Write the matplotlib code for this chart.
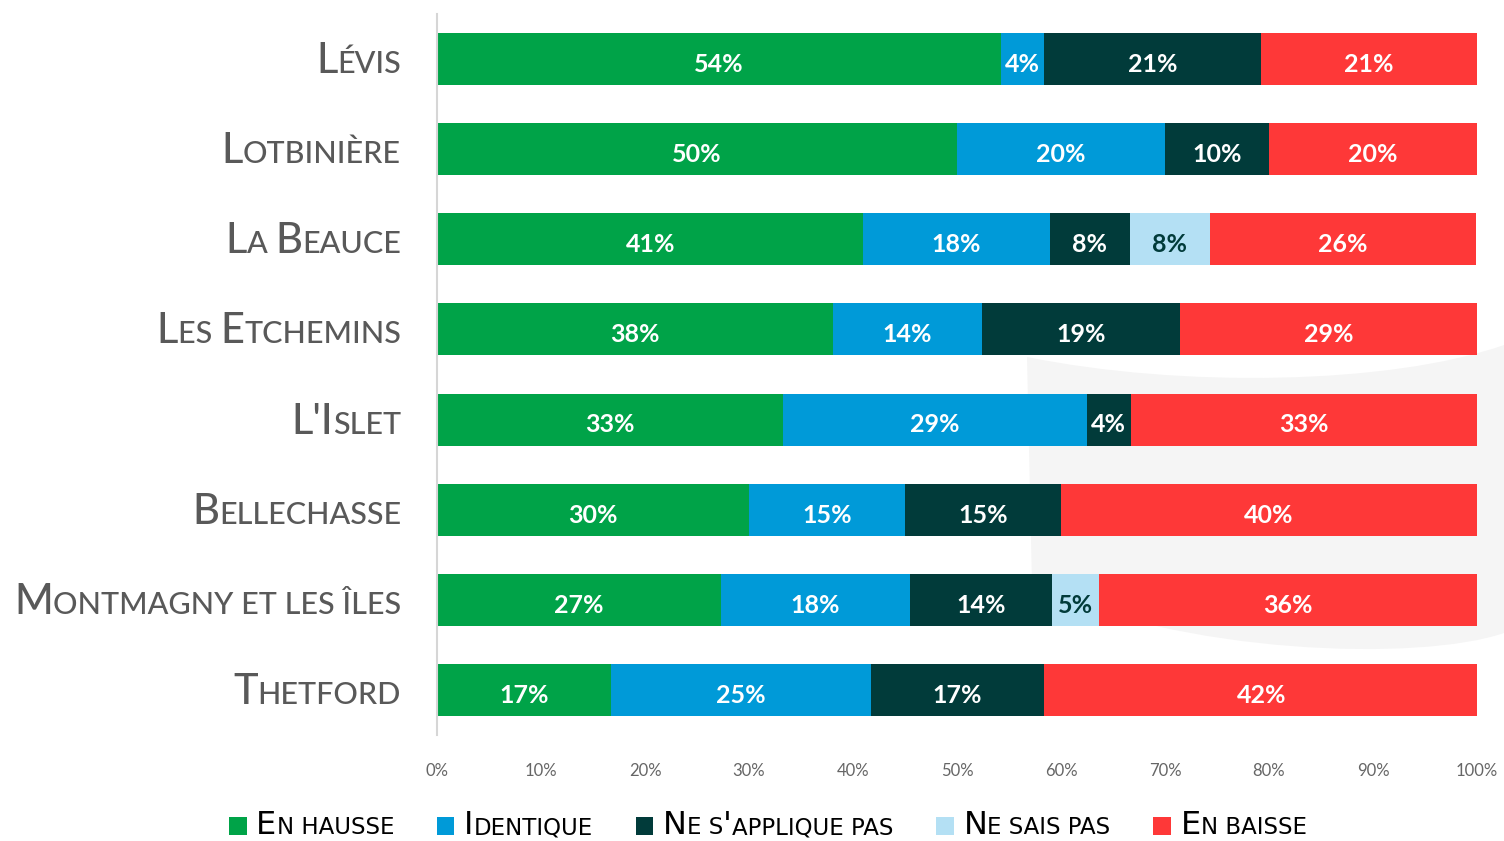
import matplotlib
matplotlib.use("Agg")
import matplotlib.pyplot as plt
import numpy as np
from matplotlib.offsetbox import TextArea, HPacker, DrawingArea, AnnotationBbox
from matplotlib.patches import Rectangle, PathPatch
from matplotlib.path import Path
import matplotlib.transforms as mtransforms

# ---------------- data ----------------
regions = ["Lévis", "Lotbinière", "La Beauce", "Les Etchemins", "L'Islet",
           "Bellechasse", "Montmagny et les îles", "Thetford"]
series_names = ["En hausse", "Identique", "Ne s'applique pas", "Ne sais pas", "En baisse"]
en_hausse = [54.2, 50.0, 41.0, 38.1, 33.3, 30.0, 27.3, 16.7]
identique = [4.2, 20.0, 17.9, 14.3, 29.2, 15.0, 18.2, 25.0]
ne_sapplique_pas = [20.8, 10.0, 7.7, 19.0, 4.2, 15.0, 13.6, 16.7]
ne_sais_pas = [0.0, 0.0, 7.7, 0.0, 0.0, 0.0, 4.55, 0.0]
en_baisse = [20.8, 20.0, 25.6, 28.6, 33.3, 40.0, 36.4, 41.7]
xticks = [0, 10, 20, 30, 40, 50, 60, 70, 80, 90, 100]

colors = ["#00A348", "#009AD8", "#013B3A", "#B4E0F4", "#FE3838"]
label_colors = ["white", "white", "white", "#013B3A", "white"]

W, H, DPI = 1504, 841, 100
fig = plt.figure(figsize=(W / DPI, H / DPI), dpi=DPI)
fig.patch.set_facecolor("white")

# faint decorative background shape (right side)
def px(x, y):
    return (x, H - y)
verts = [px(1027, 357), px(1180, 388), px(1390, 385), px(1504, 345),
         px(1504, 633),
         px(1420, 662), px(1180, 655), px(1032, 585),
         px(1027, 357)]
codes = [Path.MOVETO, Path.CURVE4, Path.CURVE4, Path.CURVE4,
         Path.LINETO,
         Path.CURVE4, Path.CURVE4, Path.CURVE4,
         Path.CLOSEPOLY]
bg = PathPatch(Path(verts, codes), facecolor="#F5F5F5", edgecolor="none",
               transform=mtransforms.IdentityTransform(), zorder=0)
fig.add_artist(bg)

left, right = 437 / W, 1477 / W
top, bottom = 1 - 14 / H, 1 - 735 / H
ax = fig.add_axes([left, bottom, right - left, top - bottom])
ax.patch.set_alpha(0)
ax.set_zorder(1)

series = [en_hausse, identique, ne_sapplique_pas, ne_sais_pas, en_baisse]
y = np.arange(len(regions))
cum = np.zeros(len(regions))
for vals, col, lcol in zip(series, colors, label_colors):
    vals = np.array(vals)
    ax.barh(y, vals, left=cum, height=0.578, color=col, edgecolor="none", zorder=2)
    for yi, (v, c) in enumerate(zip(vals, cum)):
        if v > 0:
            ax.text(c + v / 2, yi + 0.06, f"{int(v + 0.5)}%", ha="center", va="center",
                    color=lcol, fontsize=18, fontweight="bold", family=["Lato", "DejaVu Sans"],
                    zorder=3)
    cum += vals

ax.set_xlim(0, 100)
ax.set_ylim(len(regions) - 0.5, -0.5)
ax.set_yticks([])
ax.set_xticks(xticks)
ax.set_xticklabels([f"{t}%" for t in xticks], fontsize=12, color="#666666",
                   family=["Lato", "DejaVu Sans"])
ax.tick_params(axis="x", length=0, pad=20)
for s in ["top", "right", "bottom"]:
    ax.spines[s].set_visible(False)
ax.spines["left"].set_color("#D6D6D6")
ax.spines["left"].set_linewidth(1.5)


def smallcaps_box(text, big, small, color, family, weight="normal"):
    runs = []
    for ch in text:
        if ch == "'":
            is_big = True
        elif ch == " ":
            is_big = False
        else:
            is_big = ch.isupper()
        if runs and runs[-1][0] == is_big:
            runs[-1][1] += ch
        else:
            runs.append([is_big, ch])
    children = []
    for is_big, s in runs:
        children.append(TextArea(s.upper(), textprops=dict(
            fontsize=big if is_big else small, color=color, family=family,
            fontweight=weight)))
    return HPacker(children=children, align="baseline", pad=0, sep=0)


cat_family = ["Lato", "DejaVu Sans"]
for i, name in enumerate(regions):
    box = smallcaps_box(name, 30, 22, "#595959", cat_family, weight="medium")
    yy = ax.transData.transform((0, i))[1]
    ab = AnnotationBbox(box, (401, yy - 2), xycoords="figure pixels",
                        box_alignment=(1, 0.5), frameon=False, pad=0)
    fig.add_artist(ab)

# legend
leg_family = ["Liberation Sans Narrow", "DejaVu Sans"]
entries = []
for name, col in zip(series_names, colors):
    da = DrawingArea(12.5, 12.5, 0, 0)
    da.add_artist(Rectangle((0, 0), 12.5, 12.5, facecolor=col, edgecolor="none"))
    tb = smallcaps_box(name, 23, 16.5, "black", leg_family)
    entries.append(HPacker(children=[da, tb], align="baseline", pad=0, sep=7))
legbox = HPacker(children=entries, align="baseline", pad=0, sep=31)
ab = AnnotationBbox(legbox, (768, H - 826), xycoords="figure pixels",
                    box_alignment=(0.5, 0.5), frameon=False, pad=0)
fig.add_artist(ab)

fig.savefig("out.png", dpi=DPI, facecolor="white")
